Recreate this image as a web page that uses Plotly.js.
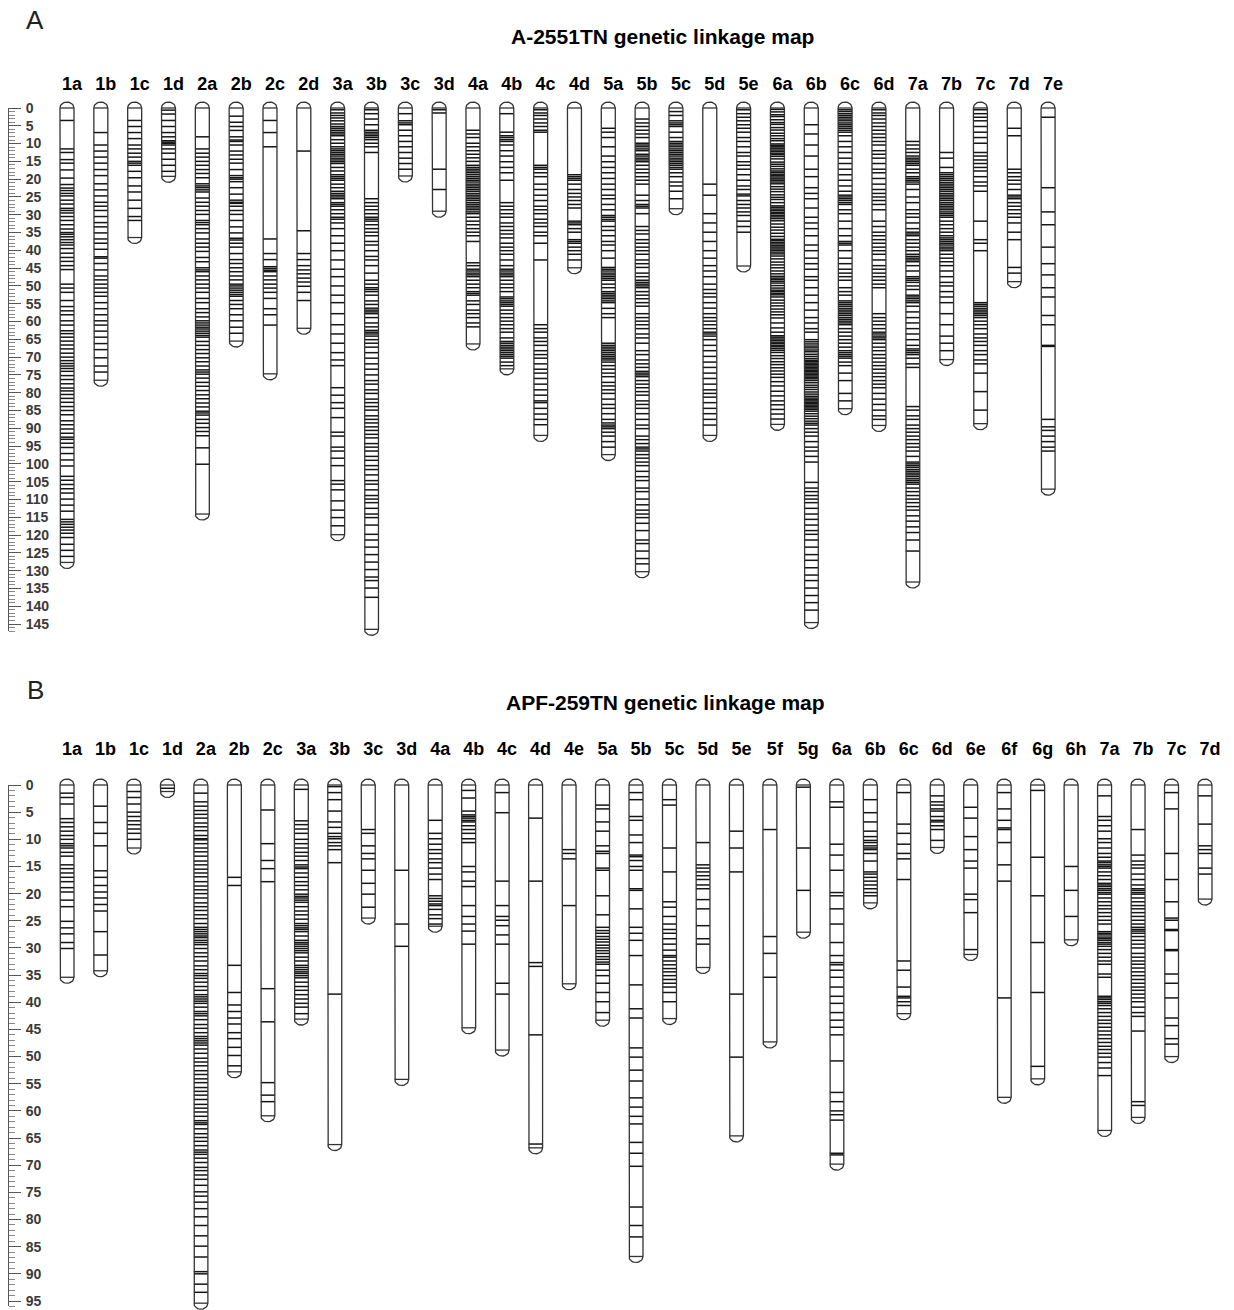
<!DOCTYPE html>
<html><head><meta charset="utf-8">
<script src="https://cdn.plot.ly/plotly-3.0.1.min.js"></script>
<style>html,body{margin:0;padding:0;background:#fff}#chart{width:1234px;height:1310px}</style>
</head><body><div id="chart"></div>
<script>
// ---------------- Panel A: A-2551TN ----------------
const groupsA = ['1a','1b','1c','1d','2a','2b','2c','2d','3a','3b','3c','3d','4a','4b','4c','4d','5a','5b','5c','5d','5e','6a','6b','6c','6d','7a','7b','7c','7d','7e'];
const lengthsA = [127.7,76.5,36.4,19.2,114.1,65.5,74.7,61.9,119.9,146.5,19.1,29,66.3,73.3,92,44.9,97.4,130.3,28.3,92,44.4,88.9,144.6,84.5,89.2,133.2,70.7,88.7,48.8,107.1];
const markersA = [
 [3.5,11.5,12.5,14.5,15.5,17.4,19.7,21.5,22.5,23.2,24,24.7,25.9,27,28.2,28.8,29.5,30.5,31.6,32.8,34,35,35.5,36.2,37,37.8,38.5,39.5,40.8,42,43.1,44.3,45.4,49.5,50.6,51.8,54.1,55.8,57,58.1,59.8,61,62.6,63.4,64.4,65.5,66.6,67.7,68.9,70,71,71.8,72.5,73.2,74,75.2,76.3,77.5,78.7,79.5,80.5,81.6,82.7,83.9,85,86.2,87.9,89,90.2,91.4,92.5,93.1,94.2,95.4,97.1,98.9,100.6,103.5,104.6,105.8,107,108.2,109.9,111.6,113.3,115.6,116.3,117,117.8,118.6,119.5,120.7,122.6,124.3,126],
 [6.9,10.4,12.1,13.8,15.5,17.3,19,21.3,23,24.7,26.5,27.6,28.8,30.5,32.2,33.4,35.1,36.8,38,39.7,41.8,42.2,43.7,45.5,47.2,48.3,49.5,50.6,51.8,52.9,54.7,56.4,58.1,59.8,61,62.7,64.4,66.2,67.9,70.2,72.5,74.2],
 [3.5,5.2,6.9,8.6,10.4,11.5,12.7,13.8,15,15.5,16.1,17.8,19.6,21.9,23.6,25.9,28.2,30.5,31.6],
 [0.6,1.7,3.5,5.2,6.9,8.1,9.2,9.6,9.9,10.4,11.5,12.7,14.4,16.1,17.8],
 [8.1,11.5,12.7,13.8,15,16.1,17.3,18.4,19.6,21.3,21.9,22.4,23,23.6,25.3,26.5,27.6,28.8,29.9,31.6,32.2,32.8,33.9,35.1,36.8,38,39.1,40.3,42,43.2,44.9,45.5,46,47.2,48.3,49.5,50.6,51.8,53.5,54.7,56.4,57.5,58.7,59.8,60.4,61,61.6,62.1,62.7,63.3,63.9,64.4,65.6,66.7,67.9,69,70.2,71.3,72.5,73.6,74.2,74.8,75.9,77.1,78.2,79.4,80.6,81.7,82.9,84,85.2,85.7,86.3,87.5,88.6,89.8,90.9,92.1,95.5,100.1],
 [2.3,4,5.2,6.3,8.1,9,9.4,10.4,12.1,13.2,14.4,15.5,17.3,19,19.6,20,20.7,22.4,24.2,25.9,26.5,26.8,27.6,28.8,29.9,31.6,33.4,35.1,36.6,37.1,38,39.1,40.9,42.6,43.7,44.9,46,47.2,48.3,49.5,50,50.6,51.2,51.8,52.4,52.9,54.1,55.2,56.4,58.1,59.8,61.6,63.3],
 [3.5,6.9,10.9,36.8,40.9,42.6,44.6,45.1,45.6,46,47.2,48.3,49.5,50.6,51.8,53.5,56.4,58.1,61],
 [12.1,34.5,40.9,42.6,44.3,45.5,46.6,47.8,48.9,50.1,51.8,54.1],
 [0.5,1.4,2.1,2.8,3.6,4.5,5.2,5.7,6.25,6.8,7.3,7.8,8.9,9.9,10.9,11.5,12,12.5,13,13.5,14.1,14.6,15.1,15.6,16.7,17.7,18.75,19.3,19.8,20.3,21.4,22.4,23.4,24,24.5,25,25.5,26.6,27.1,27.6,28.6,29.7,30.7,31.25,32.3,33.9,35.9,38,40.1,42.7,45.3,47.4,50,52.6,54.7,57.8,60.9,63.5,66.1,68.75,70.8,72.4,78.6,80.7,82.8,84.4,87,91.1,92.2,95.3,96.4,98.4,100.5,104.7,105.7,107.3,110.4,113,115.1,117.4],
 [0.5,1.6,3.1,4.7,6.25,6.8,7.3,7.8,8.3,8.9,9.9,10.9,12.5,25.5,26.6,27.6,28.6,29.7,30.7,31.25,31.8,32.8,33.9,34.9,35.9,37.5,38.5,40.1,41.7,42.7,44.3,46.4,48.4,49.5,50.5,51,51.6,52.6,54.2,55.2,56.25,56.8,57.3,57.8,58.9,60.4,61.5,62.5,63,63.5,64.1,65.1,66.1,67.2,68.75,70.3,71.9,73.4,75,76.6,77.6,79.2,80.2,81.8,82.8,83.9,84.9,86.5,87.5,88.5,89.6,90.6,91.7,92.7,94.3,95.3,96.4,97.9,99,100.5,101.6,103.1,104.7,105.7,107.3,108.9,109.9,110.9,112.5,114.1,115.1,117.2,119.8,121.4,123.4,125.5,127.6,129.7,131.8,132.8,134.9,137.5],
 [1.6,3.6,4.2,4.7,6.25,7.8,9.4,10.9,12.5,14.1,15.6,17.2],
 [0.5,1.4,17.2,22.9],
 [6.25,7.3,8.3,9.9,10.9,12,13,14,15,16.1,16.7,17.2,17.7,18.2,18.75,19.3,19.8,20.3,20.8,21.4,21.9,22.4,22.9,23.4,24,24.5,25,25.5,26,26.6,27.1,27.6,28.1,28.6,29.2,29.7,30.7,31.8,32.8,33.9,34.9,35.9,37.5,43.5,44.3,45.3,45.8,46.4,46.9,47.4,48.4,49.5,50.5,51.6,52.1,52.6,54.2,55.2,56.8,57.8,58.9,60.4,61.5],
 [1.6,6.8,7.8,8.3,8.9,9.4,10.4,12,13.5,15.1,16.7,18.2,20.3,26.6,27.6,28.6,29.7,30.7,32.3,33.3,34.4,35.4,36.5,38,39.1,40.1,41.1,42.7,44.3,45.3,45.8,46.4,46.9,47.4,48.4,49.5,50.5,51.6,53.1,53.6,54.2,54.7,55.2,55.7,56.8,57.8,58.9,59.9,60.9,62,63,64.6,65.6,66.1,66.7,67.2,67.7,68.2,68.75,69.3,69.8,70.3,71.4,72.4],
 [0.5,1.4,2.1,3.1,4.2,5.2,6.25,6.8,16.1,16.7,17.2,18.2,19.3,21.4,22.9,24.5,26,27.6,28.6,29.7,31.25,32.3,33.3,34.9,35.9,38,42.7,60.9,62,63,64.6,65.6,66.7,68.2,69.3,70.3,71.9,73.4,74.5,76,77.6,79.2,80.7,82.3,82.8,84.4,86,87.5,89],
 [18.75,19.3,19.8,20.3,21.4,22.9,24,25,26,27.1,28.1,31.8,32.3,32.8,33.9,34.9,37,37.5,38,39.1,40.1,41.1,42.7],
 [5.7,6.8,8.3,10.9,13.5,15.1,16.7,18.2,19.8,21.4,22.9,24.5,25.5,27.1,28.6,30.2,30.7,31.3,31.8,33.3,34.4,35.9,37.5,38.5,40.1,42.2,44.8,45.3,45.8,46.4,46.9,47.4,47.9,48.4,49.5,50.5,51.6,52.1,52.6,53.1,53.6,54.2,54.7,56.3,57.8,58.9,66.1,66.7,67.2,67.7,68.2,68.75,69.3,69.8,70.3,70.8,71.4,72.4,73.4,74.5,75.5,77.1,78.1,79.2,80.2,81.8,83.3,84.4,85.9,87.5,88.5,89.1,89.6,90.1,91.1,92.2,93.75,95.3],
 [3.1,4.2,5.2,6.25,7.3,8.3,9.9,10.4,10.9,11.5,12,13,13.5,14.1,14.6,15.1,16.1,17.2,18.2,19.3,20.3,21.4,24.5,26,27.1,27.6,28.1,29.7,33.3,34.4,35.4,37,38,39.1,40.1,41.1,42.7,43.75,44.8,46.4,47.4,48.4,49,49.5,50,50.5,51.6,52.6,53.6,54.7,55.7,57.8,58.9,59.9,60.9,62,63.5,64.6,66.1,68.2,69.3,70.8,71.9,72.9,74,74.5,75,75.5,76.6,77.6,78.6,79.7,80.7,82.3,83.3,84.4,85.9,87.5,89.1,90.1,92.2,93.2,94.3,95.3,95.8,96.4,97.4,98.4,99.5,100.5,102.1,103.6,104.7,106.8,107.8,109.9,111.5,113,114.1,115.1,116.7,118.75,121.4,122.4,124.5,126.6,128.1],
 [1,2.1,3.6,4.2,4.7,5.2,6.8,8.3,9.4,9.9,10.4,10.9,11.5,12,12.5,13,13.5,14.1,14.6,15.1,15.6,16.1,16.7,17.2,18.2,19.3,20.8,21.9,23.4,25.5],
 [21.4,24.5,29.7,32.3,34.9,37.5,40.1,42.2,44.3,45.8,47.4,49.5,51,52.1,53.1,54.7,56.25,57.8,58.9,59.9,60.9,62,63,63.5,64.1,65.1,66.7,68.2,69.8,71.4,72.9,74.5,76,77.6,79.2,80.2,81.25,82.8,84.4,85.9,87.5,89.1],
 [0.5,1.6,2.6,3.6,4.7,5.7,6.8,8.3,9.4,10.9,12.5,13.5,15.1,16.1,17.2,18.75,20.3,21.9,22.9,24.2,24.7,26,27.1,28.1,29.2,30.2,31.8,33.3,34.9],
 [0.4,1.1,1.9,2.4,3.3,4.1,4.6,5.5,6.2,7.1,7.8,8.6,9.2,10.1,10.5,10.9,11.3,11.8,12.2,12.7,13.1,13.6,14.3,15.2,15.8,16.4,17.1,17.7,18.1,18.6,19,19.4,19.9,20.3,20.8,21.3,22.1,22.8,23.5,24.4,25.1,25.7,26.6,27.5,27.9,28.4,28.8,29.3,29.7,30.2,30.6,31.1,31.7,32.6,33.5,34.3,35.2,36.1,36.9,37.3,37.8,38.2,38.7,39.1,39.6,40,40.5,41,41.6,42.4,43.3,44.1,44.9,45.8,46.6,47.3,47.8,48.2,48.7,49.2,49.9,50.6,51.2,51.6,52.1,52.5,53.1,54,54.8,55.6,56.5,57.3,58.1,59,60.4,61.8,63,64,64.4,64.9,65.3,65.8,66.2,66.7,67.1,67.6,68.1,68.7,69.6,70.4,71.3,72.1,73,73.9,74.8,75.7,76.9,78.1,79.6,80.9,82.3,83.4,84.7,86,87.4],
 [4.7,7.3,10.4,13.5,17.2,19.3,22.4,24,25.5,28.1,30.7,32.3,33.9,35.9,38.5,40.1,42.2,43.75,45.3,47.4,48.4,50.5,52.6,54.7,56.8,58.9,60.4,62,63,65.1,65.7,66.3,66.9,67.4,68,68.5,69.2,69.8,70.4,70.9,71.3,71.7,72.1,72.5,72.9,73.3,73.7,74.1,74.5,74.9,75.3,75.7,76.1,76.6,77.2,77.9,78.5,79.1,79.8,80.4,81,81.5,81.9,82.3,82.7,83.1,83.5,83.9,84.3,84.7,85.2,85.9,86.6,87.3,88,88.6,89.1,90.1,91.1,92.2,93.75,95.3,96.4,97.9,99.5,105.2,106.8,107.8,108.9,109.9,110.9,112.5,114.1,115.6,117.2,118.75,119.8,121.4,123.4,125.5,127.1,129.2,131.25,132.8,134.9,137,139,141.1],
 [0.5,1,1.6,2.1,2.6,3.1,3.6,4.2,4.7,5.2,5.7,6.25,6.8,7.8,9.4,10.9,12.5,14.1,15.6,17.2,18.75,20.3,21.9,23.4,24.5,25,25.5,26,26.6,27.1,28.6,29.7,31.8,33.9,35.9,37.5,38,38.5,40.1,42.2,43.75,45.3,46.4,47.4,48.4,50.5,51.6,52.6,54.2,54.7,55.2,55.7,56.3,56.8,57.3,57.8,58.3,58.9,59.4,59.9,60.4,60.9,62,63,64.1,65.1,66.1,67.2,68.2,68.75,69.3,69.8,70.3,71.4,72.4,74.5,76.6,80.2,82.3],
 [0.5,1.4,2.1,3.1,4.2,5.2,6.25,7.3,8.3,9.4,10.4,12,13,14.1,15.6,17.2,18.2,19.8,21.4,22.9,24,25,26,27.1,28.6,31.8,33.3,34.9,35.9,37,38,39.1,40.1,41.1,42.7,44.3,45.3,46.4,47.4,48.4,49.5,50.5,57.8,58.9,59.9,60.9,62,63,63.5,64.1,64.6,65.1,66.1,67.2,68.2,69.3,70.3,71.4,72.4,73.4,74.5,75.5,76.6,77.6,78.6,80.2,81.8,83.3,84.9,86.5,87.5],
 [9.4,10.4,11.5,12.5,13.5,14.1,14.6,15.1,15.6,16.1,17.2,18.2,19.3,19.8,20.3,20.8,21.4,22.9,25,26.6,28.6,29.7,30.7,32.3,33.9,34.9,35.4,35.9,37,38,39.1,40.1,41.1,41.7,42.2,42.7,43.2,44.3,45.8,47.4,47.9,48.4,49,50,51,52.6,53.1,53.6,54.2,54.7,55.7,57.3,58.9,60.4,62,63.5,65.1,66.7,67.7,68.2,68.75,69.3,70.3,71.9,72.9,83.9,84.9,86.5,87.5,89.1,90.1,91.1,92.2,93.2,94.3,95.3,96.4,97.9,99.5,100,100.5,101,101.6,102.1,102.6,103.1,103.6,104.2,104.7,105.2,105.7,106.8,107.8,108.9,109.9,110.9,112,113,114.6,116.1,117.7,119.3,121.4,124.5],
 [12.5,14.1,16.7,18.2,18.75,19.3,19.8,20.3,20.9,21.4,21.9,22.4,22.9,23.4,24,24.5,25,25.5,26,26.6,27.1,27.6,28.1,28.6,29.2,29.7,30.2,30.7,31.8,32.8,33.9,34.9,35.9,36.5,37,37.5,38,38.5,39.1,39.6,40.1,41.1,42.2,43.2,44.3,45.8,47.4,49,50,51.6,53.1,54.7,57.8,60.9,64.1,66.1,68.2],
 [0.5,1.6,2.6,3.6,5.2,6.8,8.3,9.9,12.5,13.5,14.6,15.6,16.7,17.7,19.3,20.8,21.9,23.4,31.8,37,38,40.1,54.7,55.2,55.7,56.3,56.8,57.3,57.8,58.3,58.9,59.9,60.9,62,63.5,64.6,65.6,66.7,68.2,69.3,70.8,71.9,74.5,79.7,84.9],
 [5.7,7.8,17.2,18.2,19.3,20.3,21.4,22.9,24.5,25,25.5,26.6,27.6,28.6,29.7,30.7,32.3,34.9,37,44.8,46.4],
 [2.6,22.4,29.2,32.8,39.1,43.75,46.9,50.5,53.1,58.3,60.9,66.7,67,87.5,89.6,90.6,92.2,93.75,95.3,96.4]
];
const rulerTicksA = [0,5,10,15,20,25,30,35,40,45,50,55,60,65,70,75,80,85,90,95,100,105,110,115,120,125,130,135,140,145];
const rulerMaxA = 147;

// ---------------- Panel B: APF-259TN ----------------
const groupsB = ['1a','1b','1c','1d','2a','2b','2c','3a','3b','3c','3d','4a','4b','4c','4d','4e','5a','5b','5c','5d','5e','5f','5g','6a','6b','6c','6d','6e','6f','6g','6h','7a','7b','7c','7d'];
const lengthsB = [35.4,34.2,11.6,1.2,95.4,52.8,60.9,43.1,66.2,24.5,54.2,26,44.7,48.8,66.8,36.6,43.3,86.8,43,33.6,64.6,47.3,27.1,69.8,21.7,42.1,11.5,31.2,57.5,54.1,28.5,63.6,61.2,50,21];
const markersB = [
 [1.5,2.3,3.5,6.2,6.9,7.7,8.5,9.3,10,10.8,11.2,11.6,12.4,13.1,14.7,15.4,16.2,17,17.8,18.9,19.7,21.2,22.4,25.1,26.3,27.4,29,30.1],
 [3.9,6.9,8.9,11.2,15.8,17,18.5,19.7,20.8,22,23.2,27,31.3],
 [1.2,2.3,3.5,5,5.8,6.6,7.3,8.1,8.9,10],
 [0.6],
 [1.5,3.1,3.9,4.7,5.4,6.1,7,7.7,8.4,9.3,9.9,10.1,10.8,11.6,12.3,13.1,14,14.7,15.5,16.2,16.9,17.8,18.6,19.3,20,20.8,21.7,22.4,23.1,23.9,24.6,25.5,26.2,26.6,27,27.4,27.8,28.1,28.6,29,29.4,30.1,30.9,31.6,32.4,33.3,34,34.7,35.1,35.6,36.3,37.1,37.8,38.6,39,39.4,39.8,40.2,40.9,41.7,42.1,42.5,43.2,44.1,44.8,45.6,46.3,46.7,47.1,47.5,47.9,48.6,49.4,50.3,51,51.7,52.6,53.3,54.1,54.8,55.7,56.4,57.1,57.9,58.8,59.5,60.2,61,61.8,62.2,62.5,63.3,64.2,64.9,65.6,66.4,67.2,67.6,68,68.7,69.5,70.4,71,71.8,72.6,73.7,74.9,75.7,76.8,78,79.5,81.1,83,84.9,86.9,89.6,90,91.9,93.4],
 [17,18.5,33.2,38.2,40.5,41.7,42.9,44,45.6,46.7,48.3,49.8,51.7],
 [4.6,10.8,13.9,15.4,17.8,37.5,43.6,54.8,57.1,58.3],
 [0.8,6.6,7.3,8.1,8.9,10,10.8,11.6,12.4,13.1,13.9,14.7,15.1,15.4,16.2,17,17.8,18.5,19.3,20.1,20.5,20.8,21.2,21.6,22.4,23.2,23.9,24.7,25.5,25.9,26.3,26.6,27,27.8,28.6,29,29.3,29.7,30.1,30.5,30.9,31.7,32.4,33.2,33.6,34,34.4,34.7,35.1,35.5,36.3,37.1,37.8,38.6,39.4,40.2,40.9,42.1],
 [0.3,1.4,2.7,4.8,6.8,7.8,8.9,9.5,9.9,10.6,11.2,11.9,14.3,38.5],
 [8.2,8.9,11.2,12.6,13.6,15.7,18.1,20.1,22.5],
 [15.7,25.6,29.7],
 [6.5,8.9,9.9,10.9,11.9,12.6,13.6,14.3,15.3,16.4,17.4,20.4,20.9,21.4,21.9,22.2,22.9,23.9,24.6,25.6],
 [1,2.4,4.8,5.5,5.8,6.1,6.5,6.8,7.5,8.2,8.9,9.9,10.6,15,16,17.7,18.7,22.2,24.2,25.6,26.9,29.3],
 [1.4,5.1,17.7,22.2,24.2,24.9,25.9,27.6,29.3,36.5,38.5],
 [6.1,17.7,32.7,33.4,46,66.1],
 [11.9,12.6,13.6,22.2],
 [3.7,4.4,6.8,8.5,11.2,12.2,12.6,15.3,15.7,20.4,23.9,26.2,26.8,27.3,27.9,28.4,28.9,29.5,30,30.5,31,31.6,32.1,32.6,33,34.1,35.1,36.5,38.2,39.9,41.9],
 [1.4,2.7,5.8,6.5,9.2,10.6,12.9,13.2,13.9,15,15.7,19.1,19.4,22.8,26.2,27.3,28.6,31.4,36.8,41.2,42.9,48.4,50.1,52.5,54.5,57.6,59.3,61,62.4,65.8,67.8,70.2,77.7,81.1,83.2],
 [2.7,3.7,11.6,16,21.5,22.5,24.2,25.6,26.6,27.3,28.3,29.3,30.4,31.4,31.7,32.4,33.1,33.8,34.4,35.1,35.8,36.5,37.2,38.2,39.9],
 [10.6,14.7,15.3,16,16.7,17.4,18.4,19.1,21.1,22.8,25.9,28.3,29.3],
 [8.5,11.6,16,38.5,50.1],
 [8.2,27.9,31,35.4],
 [0.4,11.6,19.4],
 [3.1,4.1,10.9,12.9,15.7,19.8,20.4,22.8,25.6,29,31.4,32.7,33.1,34.1,35.4,37.2,38.9,40.2,41.9,43.3,44.6,46,50.8,56.6,58.3,60,60.7,61.7,67.8,68.1],
 [2.7,5.1,6.8,8.5,9.5,10.2,10.6,11.2,11.6,11.9,12.6,14,16,16.4,17,17.7,18.4,19.1,19.8,20.4],
 [1.4,7.2,8.9,10.9,12.6,13.6,17.4,32.4,34.1,37.2,38.9,39.2,39.9,40.6],
 [2,3.1,3.7,4.4,4.8,5.8,6.5,6.8,7.5,8.2,10.2],
 [4.1,6.1,9.5,11.9,14,15.3,20.1,21.1,23.5,30.3],
 [1.4,4.4,6.5,7.9,8.2,10.6,14.7,17.7,39.2],
 [1,13.3,20.4,29,38.2,51.8],
 [15,19.4,24.2],
 [2,5.8,6.5,7.5,8.5,9.9,10.6,11.6,12.6,13.3,14,14.3,14.7,15,15.3,16,16.7,17.4,18.1,18.4,18.7,19.1,19.4,19.8,20.1,20.8,21.5,22.2,22.8,23.5,24.2,24.9,25.6,27,27.3,27.6,28,28.3,28.6,29,29.3,29.7,30.3,31,31.7,32.4,33,34.8,35.4,38.9,39.2,39.5,39.9,40.2,40.6,41.2,41.9,42.6,43.3,43.9,44.6,45.3,46,46.7,47.4,48.1,48.7,49.4,50.1,51.1,52.1,53.5],
 [8.2,12.9,14,14.7,15.3,16.4,17.4,18.4,19.1,19.4,19.8,20.1,20.8,21.5,22.2,22.8,23.5,24.2,24.9,25.6,26.2,26.6,26.9,27.3,27.9,28.6,29.3,30,31,31.7,32.4,33,33.7,34.4,35.1,35.8,36.5,37.2,37.8,38.5,39.2,39.9,40.9,41.9,42.6,45.3,58.3,59],
 [1.4,4.4,12.6,17.4,21.5,24.5,24.9,26.6,26.8,30.3,30.5,34.8,36.5,39.2,42.9,44.3,46.7,47.7],
 [2,7.2,11.2,11.9,12.6,15.3,16.4]
];
const rulerTicksB = [0,5,10,15,20,25,30,35,40,45,50,55,60,65,70,75,80,85,90,95];
const rulerMaxB = 96;

// ---------------- geometry ----------------
const W = 1234, H = 1310;
const y0A = 108, pxA = 516/145;   // pixel of 0 cM, px per cM
const y0B = 785, pxB = 516/95;
const x0A = 67, colA = 33.83;     // first capsule centre, column pitch
const x0B = 67, colB = 33.47;
const halfPx = 7, capPx = 6;
const FONT = 'Arial, "Liberation Sans", Helvetica, sans-serif';

function capsuleTraces(lengths, markers, hw, capV, xa, ya) {
  const ox = [], oy = [], mx = [], my = [];
  lengths.forEach((L, i) => {
    ox.push(i - hw); oy.push(0);
    ox.push(i - hw); oy.push(L);
    for (let k = 0; k <= 18; k++) { const t = Math.PI - Math.PI * k / 18; ox.push(i + hw * Math.cos(t)); oy.push(L + capV * Math.sin(t)); }
    ox.push(i + hw); oy.push(0);
    for (let k = 0; k <= 18; k++) { const t = Math.PI * k / 18; ox.push(i + hw * Math.cos(t)); oy.push(-capV * Math.sin(t)); }
    ox.push(null); oy.push(null);
    [0, L].forEach(p => { ox.push(i - hw, i + hw, null); oy.push(p, p, null); });
    markers[i].forEach(p => { mx.push(i - hw, i + hw, null); my.push(p, p, null); });
  });
  return [
    {type:'scatter', mode:'lines', x:mx, y:my, xaxis:xa, yaxis:ya, line:{color:'#151515', width:1.5}, hoverinfo:'skip', connectgaps:false},
    {type:'scatter', mode:'lines', x:ox, y:oy, xaxis:xa, yaxis:ya, line:{color:'#333', width:1.3}, hoverinfo:'skip', connectgaps:false}
  ];
}

const traces = [
  ...capsuleTraces(lengthsA, markersA, halfPx/colA, capPx/pxA, 'x', 'y'),
  ...capsuleTraces(lengthsB, markersB, halfPx/colB, capPx/pxB, 'x2', 'y2'),
  {type:'scatter', mode:'lines', x:[], y:[], xaxis:'x', yaxis:'y3', hoverinfo:'skip'},
  {type:'scatter', mode:'lines', x:[], y:[], xaxis:'x2', yaxis:'y4', hoverinfo:'skip'}
];

function labelAxis(names, x0, col, anchor, standoff) {
  return {domain:[0,1], range:[-x0/col, (W - x0)/col], anchor:anchor, side:'top',
    tickmode:'array', tickvals:names.map((_, i) => i), ticktext:names, ticks:'',
    showgrid:false, zeroline:false, showline:false, fixedrange:true,
    ticklabelshift:5, ticklabelstandoff:standoff,
    tickfont:{family:FONT, size:18, color:'#000', weight:'bold'}};
}
function rulerAxis(y0, px, maxV, ticks) {
  return {domain:[1 - (y0 + maxV*px)/H, 1 - y0/H], range:[maxV, 0], anchor:'free', position:8/W, side:'right',
    showline:true, linecolor:'#555', linewidth:1, showgrid:false, zeroline:false, fixedrange:true,
    tickmode:'array', tickvals:ticks, ticktext:ticks.map(String), ticks:'outside', ticklen:12, tickcolor:'#555', tickwidth:1,
    minor:{ticks:'outside', ticklen:6, tickcolor:'#888', tickwidth:1, dtick:1, tick0:0, showgrid:false},
    ticklabelstandoff:2,
    tickfont:{family:FONT, size:14, color:'#3a3a3a', weight:'bold'}};
}

const topA = 96, botA = 645, topB = 772, botB = 1310;
const layout = {
  width:W, height:H, margin:{l:0, r:0, t:0, b:0}, paper_bgcolor:'#fff', plot_bgcolor:'rgba(0,0,0,0)', showlegend:false,
  xaxis: labelAxis(groupsA, x0A, colA, 'y', 1),
  xaxis2: labelAxis(groupsB, x0B, colB, 'y2', 12),
  yaxis: {domain:[1 - botA/H, 1 - topA/H], range:[(botA - y0A)/pxA, (topA - y0A)/pxA], anchor:'x', visible:false, fixedrange:true},
  yaxis2:{domain:[1 - botB/H, 1 - topB/H], range:[(botB - y0B)/pxB, (topB - y0B)/pxB], anchor:'x2', visible:false, fixedrange:true},
  yaxis3: rulerAxis(y0A, pxA, rulerMaxA, rulerTicksA),
  yaxis4: rulerAxis(y0B, pxB, rulerMaxB, rulerTicksB),
  annotations: [
    {text:'A', x:35/W, y:1 - 20/H, xref:'paper', yref:'paper', showarrow:false, xanchor:'center', yanchor:'middle', font:{family:FONT, size:26, color:'#222'}},
    {text:'<b>A-2551TN genetic linkage map</b>', x:662/W, y:1 - 37/H, xref:'paper', yref:'paper', showarrow:false, xanchor:'center', yanchor:'middle', font:{family:FONT, size:21, color:'#000'}},
    {text:'B', x:35/W, y:1 - 690/H, xref:'paper', yref:'paper', showarrow:false, xanchor:'center', yanchor:'middle', font:{family:FONT, size:26, color:'#222'}},
    {text:'<b>APF-259TN genetic linkage map</b>', x:665/W, y:1 - 702/H, xref:'paper', yref:'paper', showarrow:false, xanchor:'center', yanchor:'middle', font:{family:FONT, size:21, color:'#000'}}
  ]
};

Plotly.newPlot('chart', traces, layout, {staticPlot:true, displayModeBar:false});
</script>
</body></html>
